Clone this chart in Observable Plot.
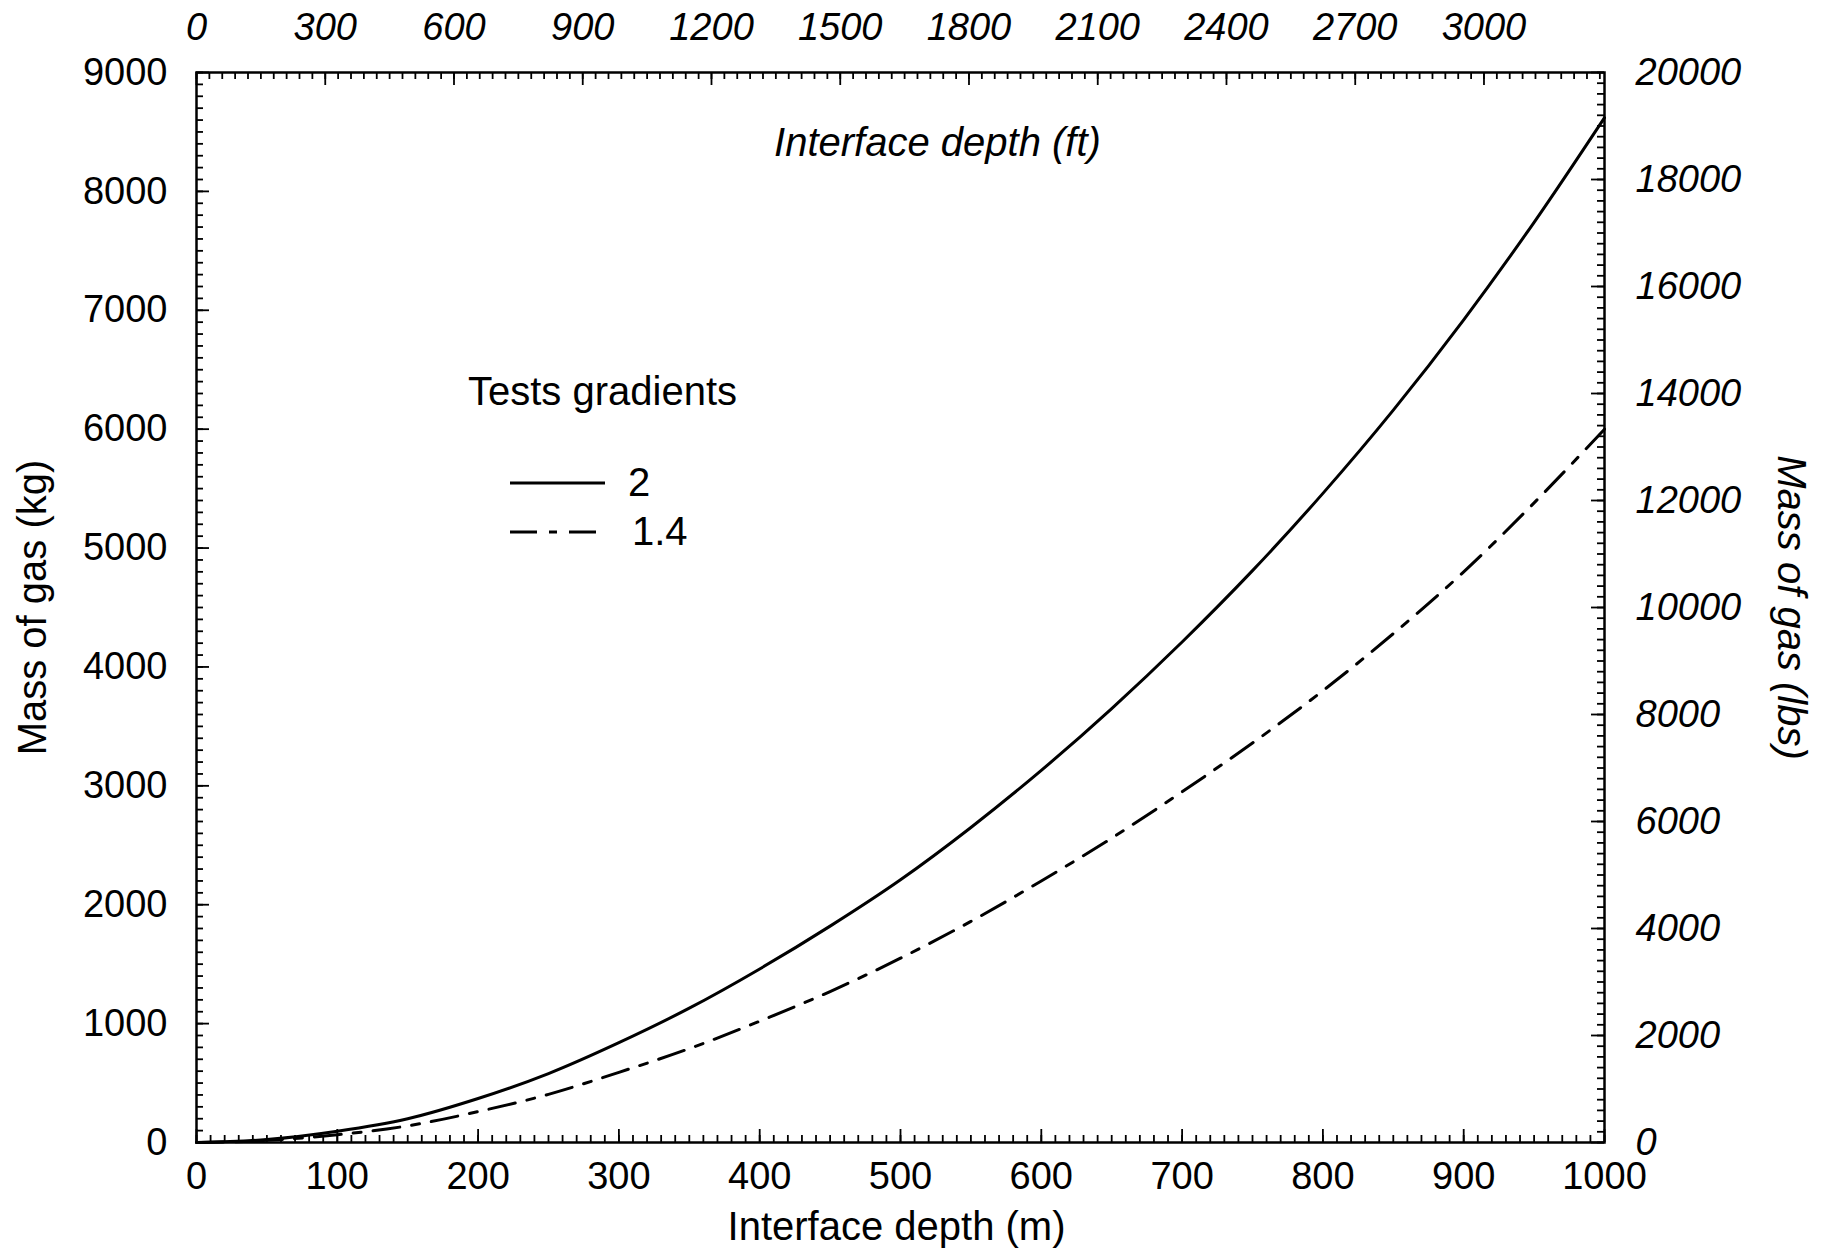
<!DOCTYPE html>
<html><head><meta charset="utf-8">
<script src="https://cdn.jsdelivr.net/npm/d3@7"></script>
<script src="https://cdn.jsdelivr.net/npm/@observablehq/plot@0.6"></script>
<style>body{margin:0;background:#fff}</style>
</head><body><div id="chart"></div>
<script>
// ---- data ----
const depths     = [0, 50, 100, 150, 200, 250, 300, 350, 400, 450, 500, 550, 600, 650, 700, 750, 800, 850, 900, 950, 1000];
const gradient2  = [0, 25, 95, 200, 370, 580, 840, 1130, 1460, 1820, 2210, 2650, 3130, 3650, 4210, 4810, 5460, 6160, 6920, 7740, 8620];
const gradient14 = [0, 18, 65, 140, 260, 405, 590, 790, 1020, 1270, 1550, 1860, 2200, 2560, 2950, 3360, 3800, 4280, 4800, 5380, 6000];
const seriesNames = ["2", "1.4"];
const seriesDash  = ["none", "27,12,8,12"];
const xTicksM    = [0, 100, 200, 300, 400, 500, 600, 700, 800, 900, 1000];
const xTicksFt   = [0, 300, 600, 900, 1200, 1500, 1800, 2100, 2400, 2700, 3000];
const yTicksKg   = [0, 1000, 2000, 3000, 4000, 5000, 6000, 7000, 8000, 9000];
const yTicksLbs  = [0, 2000, 4000, 6000, 8000, 10000, 12000, 14000, 16000, 18000, 20000];
const FT_TO_M = 0.3048;
const LBS_TO_KG = 9000 / 20000; // right axis in the figure spans 0–20000 lbs over 0–9000 kg

const series = [gradient2, gradient14].map((vals, s) =>
  depths.map((d, i) => ({depth: d, mass: vals[i], series: seriesNames[s]})));

const W = 1824, H = 1253, mL = 196, mR = 220, mT = 72, mB = 111;
const pw = W - mL - mR, ph = H - mT - mB;
const MAJ = 13, MIN = 7;
const font = "'Liberation Sans', Arial, Helvetica, sans-serif";
const TITLE = 40;

const minorM = d3.range(0, 1001, 10);
const minorKg = d3.range(0, 9001, 100);
const minorFt = d3.range(0, 3281, 30);
const minorLbs = d3.range(0, 20001, 200);

function legendMark(index, scales, values, dims) {
  const ox = dims.marginLeft, oy = dims.marginTop;
  const g = d3.create("svg:g").attr("font-family", font).attr("font-size", TITLE)
    .attr("fill", "black").attr("text-anchor", "start");
  g.append("text").attr("x", ox + 272).attr("y", oy + 333).text("Tests gradients");
  const ly = [411, 460], lx2 = [409, 404], tx = [432, 436];
  seriesNames.forEach((name, i) => {
    g.append("line").attr("x1", ox + 314).attr("x2", ox + lx2[i])
      .attr("y1", oy + ly[i]).attr("y2", oy + ly[i])
      .attr("stroke", "black").attr("stroke-width", 3)
      .attr("stroke-dasharray", seriesDash[i]);
    g.append("text").attr("x", ox + tx[i]).attr("y", oy + ly[i] + 13).text(name);
  });
  return g.node();
}

const chart = Plot.plot({
  width: W, height: H,
  marginLeft: mL, marginRight: mR, marginTop: mT, marginBottom: mB,
  style: {fontFamily: font, fontSize: "38px", color: "black", background: "white"},
  x: {domain: [0, 1000]},
  y: {domain: [0, 9000]},
  marks: [
    // tick marks (inward)
    Plot.tickX(minorM, {x: d => d, insetTop: ph - MIN, stroke: "black", strokeWidth: 1.8}),
    Plot.tickX(xTicksM, {x: d => d, insetTop: ph - MAJ, stroke: "black", strokeWidth: 1.8}),
    Plot.tickX(minorFt.filter(d => d * FT_TO_M <= 1000), {x: d => d * FT_TO_M, insetBottom: ph - MIN, stroke: "black", strokeWidth: 1.8}),
    Plot.tickX(xTicksFt, {x: d => d * FT_TO_M, insetBottom: ph - MAJ, stroke: "black", strokeWidth: 1.8}),
    Plot.tickY(minorKg, {y: d => d, insetRight: pw - MIN, stroke: "black", strokeWidth: 1.8}),
    Plot.tickY(yTicksKg, {y: d => d, insetRight: pw - MAJ, stroke: "black", strokeWidth: 1.8}),
    Plot.tickY(minorLbs, {y: d => d * LBS_TO_KG, insetLeft: pw - MIN, stroke: "black", strokeWidth: 1.8}),
    Plot.tickY(yTicksLbs, {y: d => d * LBS_TO_KG, insetLeft: pw - MAJ, stroke: "black", strokeWidth: 1.8}),
    Plot.frame({stroke: "black", strokeWidth: 2.5}),
    // axes
    Plot.axisX(xTicksM, {anchor: "bottom", tickSize: 0, tickPadding: 20, tickFormat: d => String(d), label: null}),
    Plot.axisY(yTicksKg, {anchor: "left", tickSize: 0, tickPadding: 29, tickFormat: d => String(d), label: null}),
    Plot.text(xTicksFt, {x: d => d * FT_TO_M, text: d => String(d), frameAnchor: "top", lineAnchor: "bottom", dy: -33, fontStyle: "italic"}),
    Plot.text(yTicksLbs, {y: d => d * LBS_TO_KG, text: d => String(d), frameAnchor: "right", textAnchor: "start", dx: 31, fontStyle: "italic"}),
    // axis titles
    Plot.text(["Interface depth (m)"], {text: d => d, frameAnchor: "bottom", textAnchor: "middle", dy: 97, dx: -4, fontSize: TITLE}),
    Plot.text(["Mass of gas (kg)"], {text: d => d, frameAnchor: "left", textAnchor: "middle", rotate: -90, dx: -163, fontSize: TITLE}),
    Plot.text(["Mass of gas (lbs)"], {text: d => d, frameAnchor: "right", textAnchor: "middle", rotate: 90, dx: 186, fontStyle: "italic", fontSize: TITLE}),
    Plot.text(["Interface depth (ft)"], {text: d => d, frameAnchor: "top", textAnchor: "middle", dy: 55, dx: 37, fontStyle: "italic", fontSize: TITLE}),
    // curves
    ...series.map((rows, s) => Plot.line(rows, {x: "depth", y: "mass", stroke: "black", strokeWidth: 3,
      strokeDasharray: seriesDash[s], curve: "monotone-x"})),
    legendMark
  ]
});
document.getElementById("chart").appendChild(chart);
</script>
</body></html>
